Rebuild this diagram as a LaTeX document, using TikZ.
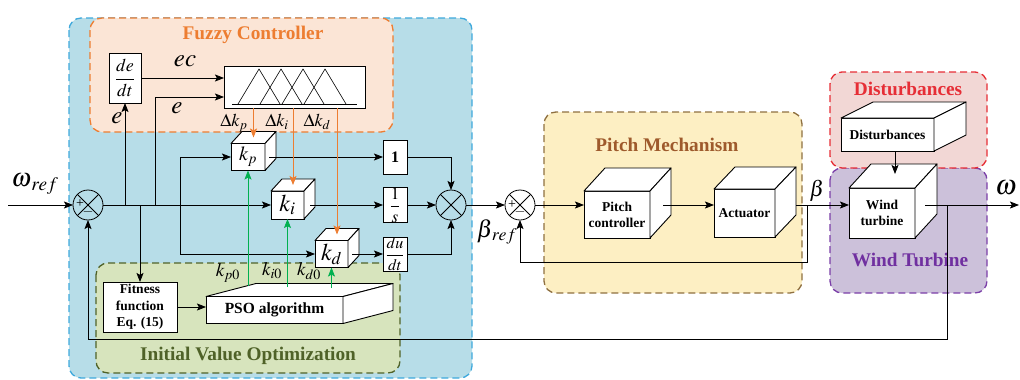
\documentclass[tikz,border=0pt]{standalone}
\usepackage{mathptmx}
\usepackage{fontspec}
\setmainfont{Liberation Serif}
\usetikzlibrary{arrows.meta,calc}

\newcommand\setfs[1]{\fontsize{#1}{#1}\selectfont}

\definecolor{bluefill}{HTML}{B7DDE8}
\definecolor{blueline}{HTML}{3FA9DC}
\definecolor{orgfill}{HTML}{FBE5D6}
\definecolor{orgline}{HTML}{ED7D31}
\definecolor{grnfill}{HTML}{D7E4BD}
\definecolor{grnline}{HTML}{4F6228}
\definecolor{ylwfill}{HTML}{FDEFC3}
\definecolor{ylwline}{HTML}{8F7040}
\definecolor{ylwtitle}{HTML}{9E5A2C}
\definecolor{pnkfill}{HTML}{F2D7D5}
\definecolor{pnkline}{HTML}{E62E36}
\definecolor{prpfill}{HTML}{CCC1DA}
\definecolor{prpline}{HTML}{7B3FA8}
\definecolor{prptitle}{HTML}{7030A0}
\definecolor{garrow}{HTML}{00B050}

% side and top faces of a block drawn as a cuboid; #1 = front-face node, #2 = depth vector
\newcommand\cubesides[2]{%
  \filldraw[cubeline] (#1.north west) -- ++#2 -- ($(#1.north east)+#2$) -- (#1.north east) -- cycle;
  \filldraw[cubeline] (#1.north east) -- ($(#1.north east)+#2$) -- ($(#1.south east)+#2$) -- (#1.south east) -- cycle;}

\begin{document}
\begin{tikzpicture}[x=1pt,y=-1pt,
  grp/.style={line width=1.3pt, dash pattern=on 7pt off 4pt, rounded corners=12pt},
  title/.style={font={\bfseries\setfs{19.3}}},
  cubeline/.style={fill=white, draw=black, line width=0.9pt, line join=round},
  face/.style={draw, fill=white, line width=0.9pt, inner sep=0pt, outer sep=0pt, align=center},
  blk/.style={draw, fill=white, line width=0.9pt, inner sep=0pt, outer sep=0pt, align=center},
  sumj/.style={circle, draw, line width=0.8pt, minimum size=30pt, inner sep=0pt, outer sep=0pt,
    path picture={\draw[line width=0.8pt] (path picture bounding box.north west) -- (path picture bounding box.south east)
      (path picture bounding box.north east) -- (path picture bounding box.south west);}},
  conn/.style={line width=0.8pt},
  arr/.style={conn, -{Stealth[length=9pt,width=7pt,inset=1.8pt]}},
  oarr/.style={arr, draw=orgline, color=orgline},
  garr/.style={arr, draw=garrow, color=garrow},
  lbl/.style={inner sep=0pt}
]
\useasboundingbox (0,0) rectangle (1020,380);

% ---------- group frames ----------
\draw[grp, draw=blueline, fill=bluefill] (69,18) rectangle (472,378);
\draw[grp, draw=orgline, fill=orgfill] (90,18) rectangle (393,132);
\draw[grp, draw=grnline, fill=grnfill] (96,263) rectangle (400,373);
\draw[grp, draw=ylwline, fill=ylwfill] (544,112) rectangle (802,293);
\draw[grp, draw=prpline, fill=prpfill] (830,168) rectangle (987,293);
\draw[grp, draw=pnkline, fill=pnkfill] (830,72) rectangle (987,168);

\node[title, text=orgline] (tfuzzy) at (253,35) {Fuzzy Controller};
\node[title, text=grnline] (tivo) at (248,356) {Initial Value Optimization};
\node[title, text=ylwtitle] (tpitch) at (667,145) {Pitch Mechanism};
\node[title, text=pnkline] (tdist) at (908,89) {Disturbances};
\node[title, text=prptitle] (twind) at (910,260) {Wind Turbine};

% ---------- fuzzy controller ----------
\node[blk, minimum width=32, minimum height=50] (deds) at (125,78) {\setfs{18}$\displaystyle\frac{de}{dt}$};
\node[blk, minimum width=141, minimum height=42] (fuzzy) at (294.5,87) {};
\draw[line width=0.6pt] (232,104) -- (357,104);
\foreach \ax in {259,281,303,325}
  \draw[line width=0.6pt, line join=round] (\ax-21,104) -- (\ax,69) -- (\ax+21,104);

% ---------- PID gain blocks ----------
\node[face, minimum width=34, minimum height=27] (kp) at (248,157) {\setfs{20}$k_p$};
\cubesides{kp}{(11,-12)}
\node[face, minimum width=33, minimum height=28] (ki) at (287.5,205) {\setfs{24}$k_i$};
\cubesides{ki}{(11,-12)}
\node[face, minimum width=33, minimum height=27] (kd) at (331.5,254) {\setfs{24}$k_d$};
\cubesides{kd}{(11,-12)}

\node[blk, minimum width=24, minimum height=34, font={\bfseries\setfs{16}}] (one) at (395,157) {1};
\node[blk, minimum width=24, minimum height=34] (integ) at (395,205) {\setfs{17}$\displaystyle\frac{1}{s}$};
\node[blk, minimum width=24, minimum height=34] (deriv) at (395,254) {\setfs{16}$\displaystyle\frac{du}{dt}$};

% ---------- summing junctions ----------
\node[sumj] (sum1) at (88,205) {};
\node[lbl, font=\setfs{14}] (s1p) at (80,204) {+};
\node[lbl, font=\setfs{14}] (s1m) at (88,212) {$-$};
\node[sumj] (sum2) at (451,205) {};
\node[sumj] (sum3) at (520,205) {};
\node[lbl, font=\setfs{14}] (s3p) at (512,205) {+};
\node[lbl, font=\setfs{14}] (s3m) at (520,212) {$-$};

% ---------- initial value optimization ----------
\node[blk, minimum width=74, minimum height=50, font={\bfseries\fontsize{13.5}{16.5}\selectfont}] (fitness) at (140,307) {Fitness\\function\\Eq. (15)};
\node[face, minimum width=137, minimum height=27, font={\bfseries\setfs{15.5}}] (pso) at (274.5,310) {PSO algorithm};
\cubesides{pso}{(50,-13)}

% ---------- pitch mechanism ----------
\node[face, minimum width=66, minimum height=47, font={\bfseries\fontsize{13.5}{16}\selectfont}] (pitchctl) at (617,214.5) {Pitch\\controller};
\cubesides{pitchctl}{(21,-23)}
\node[face, minimum width=61, minimum height=48, font={\bfseries\setfs{13.5}}] (actuator) at (744.5,213) {Actuator};
\cubesides{actuator}{(21,-22)}

% ---------- disturbances and wind turbine ----------
\node[face, minimum width=93, minimum height=33, font={\bfseries\setfs{13.5}}] (dist) at (887.5,134.5) {Disturbances};
\cubesides{dist}{(32,-16)}
\node[face, minimum width=66, minimum height=50, font={\bfseries\fontsize{13.5}{16}\selectfont}] (turbine) at (882,213) {Wind\\turbine};
\cubesides{turbine}{(22,-24)}

% ---------- signal coordinates ----------
\coordinate (win) at (8,205);
\coordinate (bd) at (125,205);
\coordinate (bf) at (140,205);
\coordinate (be) at (155,205);
\coordinate (bk) at (180,205);
\coordinate (bb) at (807,205);
\coordinate (fb) at (947,205);
\coordinate (wout) at (1019,205);
\path ($(kp.north)+(5.5,-6)$) coordinate (kptop)
      ($(ki.north)+(5.5,-6)$) coordinate (kitop)
      ($(kd.north)+(5.5,-6)$) coordinate (kdtop);

% ---------- connectors ----------
\draw[arr] (win) -- (sum1.west);
\draw[arr] (sum1.east) -- (ki.west);
\draw[arr] (bd) -- (deds.south);
\draw[arr] (deds.east) -- (deds.east -| fuzzy.west);
\draw[arr] (be) |- ($(fuzzy.west)+(0,10)$);
\draw[arr] (bf) -- (fitness.north);
\draw[arr] (bk) |- (kp.west);
\draw[arr] (bk) |- (kd.west);

\draw[arr] ($(kp.east)+(4,0)$) -- (one.west);
\draw[arr] ($(ki.east)+(6,0)$) -- (integ.west);
\draw[arr] ($(kd.east)+(4,0)$) -- (deriv.west);
\draw[arr] (one.east) -| (sum2.north);
\draw[arr] (integ.east) -- (sum2.west);
\draw[arr] (deriv.east) -| (sum2.south);

\draw[oarr] (fuzzy.south -| kptop) -- (kptop);
\draw[oarr] (fuzzy.south -| kitop) -- (kitop);
\draw[oarr] (fuzzy.south -| kdtop) -- (kdtop);

\draw[arr] (fitness.east) -- (fitness.east -| pso.west);
\draw[garr] (kp.south |- 0,286) -- (kp.south);
\draw[garr] (ki.south |- 0,287) -- (ki.south);
\draw[garr] (kd.south |- 0,288) -- (kd.south);

\draw[arr] (sum2.east) -- (sum3.west);
\draw[arr] (sum3.east) -- (sum3.east -| pitchctl.west);
\draw[arr] ($(pitchctl.east |- sum3.east)+(13,0)$) -- (sum3.east -| actuator.west);
\draw[arr] ($(actuator.east |- sum3.east)+(21,0)$) -- (sum3.east -| turbine.west);
\draw[arr] (bb) -- ++(0,57) -| (sum3.south);

\draw[arr] ($(dist.south)+(7.5,0)$) -- ++(0,23);
\draw[arr] ($(turbine.east |- sum3.east)+(10,0)$) -- (wout);
\draw[arr] (fb) -- ++(0,134) -| (sum1.south);

% ---------- signal labels ----------
\node[lbl, font=\setfs{26}] (lwref) at (35,184) {$\omega_{\,ref}$};
\node[lbl, font=\setfs{25}] (lec) at (185,61) {$ec$};
\node[lbl, font=\setfs{25}] (le1) at (177,108) {$e$};
\node[lbl, font=\setfs{25}] (le2) at (117,118) {$e$};
\node[lbl, font=\setfs{18}] (ldkp) at (234,123) {$\Delta k_p$};
\node[lbl, font=\setfs{18}] (ldki) at (277,122) {$\Delta k_i$};
\node[lbl, font=\setfs{18}] (ldkd) at (317,122) {$\Delta k_d$};
\node[lbl, font=\setfs{19}] (lkp0) at (228,273) {$k_{p0}$};
\node[lbl, font=\setfs{19}] (lki0) at (272,271) {$k_{i0}$};
\node[lbl, font=\setfs{19}] (lkd0) at (309,271) {$k_{d0}$};
\node[lbl, font=\setfs{24}] (lbref) at (497,232) {$\beta_{\,ref}$};
\node[lbl, font=\setfs{22}] (lbeta) at (817,191) {$\beta$};
\node[lbl, font=\setfs{28}] (lw) at (1006,188) {$\omega$};
\end{tikzpicture}
\end{document}
